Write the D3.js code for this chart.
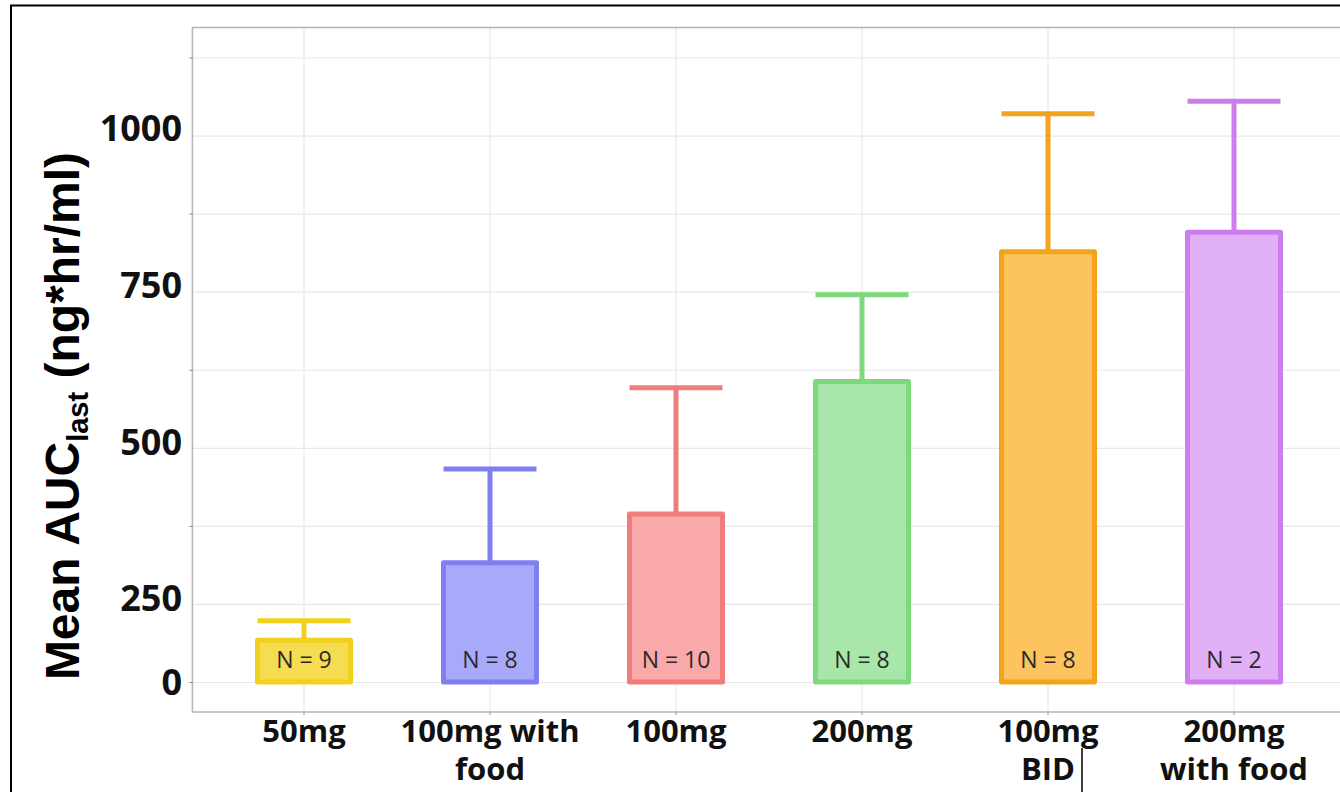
<html>
<head>
<script src="https://d3js.org/d3.v7.min.js"></script>
<style>
body{margin:0;background:#fff}
</style>
</head>
<body>
<svg width=1340 height=792></svg>
<script>
// data
const categories=["50mg","100mg with food","100mg","200mg","100mg BID","200mg with food"]
const labelLines=[["50mg"],["100mg with","food"],["100mg"],["200mg"],["100mg","BID"],["200mg","with food"]]
const means=[67,191,269,481,689,720]
const uppers=[98,341,471,620,910,930]
const counts=[9,8,10,8,8,2]
const yTicks=[0,250,500,750,1000]
const yMinor=[125,375,625,875]

const strokes=["#f0d21e","#7f7ff2","#f07c7c","#7ed87e","#f4a41c","#cc7eee"]
const fills=["#f6dc50","#a9a9f9","#f9a9a9","#a9e6a9","#fcc35e","#e2b0f6"]

const svg=d3.select("svg")
const margin={top:27.5, left:192.4, bottom:712, right:1345.6}

const xs=d3.scaleBand().domain(categories).range([margin.left,margin.right]).paddingInner(0.5).paddingOuter(0.35)
const ys=d3.scaleLinear().domain([-48,1048]).range([margin.bottom,margin.top])
// the tick labels sit where they were put on the picture, not on the grid
const yl=d3.scaleLinear().domain([0,250,1000]).range([682,598,128])

// outer black frame
svg.append("rect").attr("x",11).attr("y",5.5).attr("width",1400).attr("height",900)
  .attr("fill","none").attr("stroke","#000").attr("stroke-width",2)

// gridlines
svg.append("g").attr("transform","translate("+margin.left+",0)")
  .call(d3.axisLeft(ys).tickValues(yTicks.concat(yMinor)).tickSize(-(margin.right-margin.left)).tickFormat(""))
  .call(g=>g.select(".domain").remove())
  .selectAll("line").attr("stroke","#e8e8e8").attr("stroke-width",1.2)

svg.append("g").attr("transform","translate(0,"+margin.bottom+")")
  .call(d3.axisBottom(xs).tickSize(-(margin.bottom-margin.top)).tickFormat(""))
  .call(g=>g.select(".domain").remove())
  .selectAll("line").attr("stroke","#e8e8e8").attr("stroke-width",1.2)

// panel border
svg.append("rect").attr("x",margin.left).attr("y",margin.top)
  .attr("width",margin.right-margin.left).attr("height",margin.bottom-margin.top)
  .attr("fill","none").attr("stroke","#b5b5b5").attr("stroke-width",1.5)

// error bars
const eb=svg.append("g")
eb.selectAll("line.v").data(categories).enter().append("line")
  .attr("x1",d=>xs(d)+xs.bandwidth()/2).attr("x2",d=>xs(d)+xs.bandwidth()/2)
  .attr("y1",(d,i)=>ys(means[i])).attr("y2",(d,i)=>ys(uppers[i]))
  .attr("stroke",(d,i)=>strokes[i]).attr("stroke-width",5)
eb.selectAll("line.cap").data(categories).enter().append("line")
  .attr("x1",d=>xs(d)).attr("x2",d=>xs(d)+xs.bandwidth())
  .attr("y1",(d,i)=>ys(uppers[i])).attr("y2",(d,i)=>ys(uppers[i]))
  .attr("stroke",(d,i)=>strokes[i]).attr("stroke-width",5)

// bars
svg.append("g").selectAll("rect").data(categories).enter().append("rect")
  .attr("x",d=>xs(d)).attr("width",xs.bandwidth())
  .attr("y",(d,i)=>ys(means[i])).attr("height",(d,i)=>ys(0)-ys(means[i]))
  .attr("fill",(d,i)=>fills[i]).attr("stroke",(d,i)=>strokes[i]).attr("stroke-width",5)
  .attr("stroke-linejoin","round")

// N labels
svg.append("g").selectAll("text").data(categories).enter().append("text")
  .attr("x",d=>xs(d)+xs.bandwidth()/2).attr("y",ys(0)-14)
  .attr("text-anchor","middle").attr("font-family","'Open Sans'").attr("font-size",23)
  .attr("fill","#2a2a2a")
  .text((d,i)=>"N = "+counts[i])

// y ticks
svg.append("g").attr("transform","translate("+margin.left+",0)")
  .call(d3.axisLeft(ys).tickValues(yTicks).tickSize(3).tickFormat(""))
  .call(g=>g.select(".domain").remove())
  .selectAll("line").attr("stroke","#888")

// y tick labels
svg.append("g").attr("transform","translate(182,0)")
  .call(d3.axisLeft(yl).tickValues(yTicks).tickSize(0).tickPadding(0).tickFormat(d3.format("d")))
  .call(g=>g.select(".domain").remove())
  .selectAll("text").attr("font-family","'Open Sans'").attr("font-weight","bold")
  .attr("font-size",36).attr("fill","#111").attr("dy","0.36em")

// x axis
const xg=svg.append("g").attr("transform","translate(0,"+margin.bottom+")")
  .call(d3.axisBottom(xs).tickSize(3).tickPadding(6))
xg.select(".domain").remove()
xg.selectAll("line").attr("stroke","#999")
xg.selectAll("text").text("").attr("font-family","'Open Sans'").attr("font-weight","bold")
  .attr("font-size",31).attr("fill","#111").attr("dy",null).attr("y",30)
  .each(function(d,i){
    const t=d3.select(this)
    labelLines[i].forEach((s,j)=>t.append("tspan").attr("x",0).attr("dy",j?38:0).text(s))
  })

// y title
const title=svg.append("text").attr("transform","translate(79,416) rotate(-90)")
  .attr("text-anchor","middle").attr("font-family","'Liberation Sans'").attr("font-weight","bold")
  .attr("font-size",48).attr("fill","#000")
title.append("tspan").text("Mean AUC")
title.append("tspan").attr("font-size",29).attr("dy",9).text("last")
title.append("tspan").attr("dy",-9).text(" (ng*hr/ml)")

// stray cursor mark beside BID
svg.append("line").attr("x1",1082).attr("x2",1082).attr("y1",748).attr("y2",792)
  .attr("stroke","#000").attr("stroke-width",1.5)
</script>
</body>
</html>
